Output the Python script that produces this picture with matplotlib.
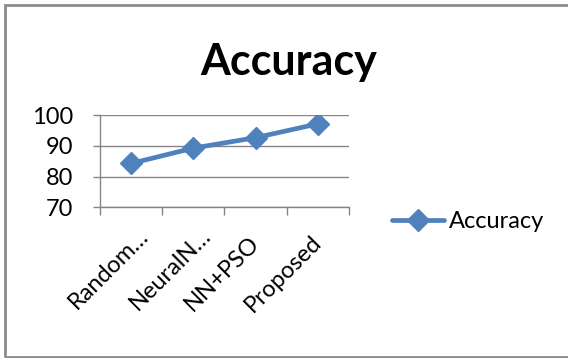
import matplotlib.pyplot as plt
import matplotlib.transforms as mtransforms
from matplotlib.patches import Rectangle

methods = ['Random\u2026', 'NeuralN\u2026', 'NN+PSO', 'Proposed']
accuracy = [84.3, 89.3, 92.7, 97.2]
yticks = [70, 80, 90, 100]

plt.rcParams['font.family'] = ['Lato', 'DejaVu Sans']
blue = '#4F81BD'
grey = '#868686'

fig = plt.figure(figsize=(5.68, 3.58), dpi=100)
ax = fig.add_axes([0.176, 0.421, 0.4384, 0.257])

x = range(len(methods))
ax.plot(x, accuracy, color=blue, lw=3.4, marker='D', ms=11.5,
        solid_capstyle='round', label='Accuracy')

ax.set_xlim(-0.5, len(methods) - 0.5)
ax.set_ylim(70, 100)
ax.set_yticks(yticks)
ax.set_yticklabels([str(v) for v in yticks])
ax.yaxis.grid(True, color=grey, lw=1)
ax.set_axisbelow(True)

# tick marks between categories, labels under each category
ax.set_xticks([i - 0.5 for i in range(len(methods) + 1)])
ax.set_xticklabels([])
ax.set_xticks(list(x), minor=True)
ax.set_xticklabels(methods, minor=True, rotation=45, ha='right',
                   rotation_mode='anchor', va='center')
ax.tick_params(axis='x', which='major', length=6, color=grey, width=1)
ax.tick_params(axis='x', which='minor', length=0, pad=23, labelsize=17)
ax.tick_params(axis='y', length=5, color=grey, width=1, pad=14,
               labelsize=17)

# truncated names are pushed a little further along their baseline
shift = mtransforms.ScaledTranslation(0.14, 0.07, fig.dpi_scale_trans)
for lbl in ax.get_xticklabels(minor=True):
    if lbl.get_text().endswith('\u2026'):
        lbl.set_transform(lbl.get_transform() + shift)

for side in ['top', 'right']:
    ax.spines[side].set_visible(False)
for side in ['left', 'bottom']:
    ax.spines[side].set_color(grey)
    ax.spines[side].set_linewidth(1)

fig.text(0.508, 0.79, 'Accuracy', fontsize=31, fontweight='bold',
         ha='center', va='baseline')

fig.legend(loc='center left', bbox_to_anchor=(0.653, 0.38), frameon=False,
           fontsize=17, handlelength=2.2, handletextpad=0.2)

fig.patches.append(Rectangle((5 / 568, 1 - 357 / 358), 1.2, 352 / 358,
                             transform=fig.transFigure, fill=False,
                             edgecolor='#8c8c8c', lw=2))

fig.savefig('out.png', dpi=100)
